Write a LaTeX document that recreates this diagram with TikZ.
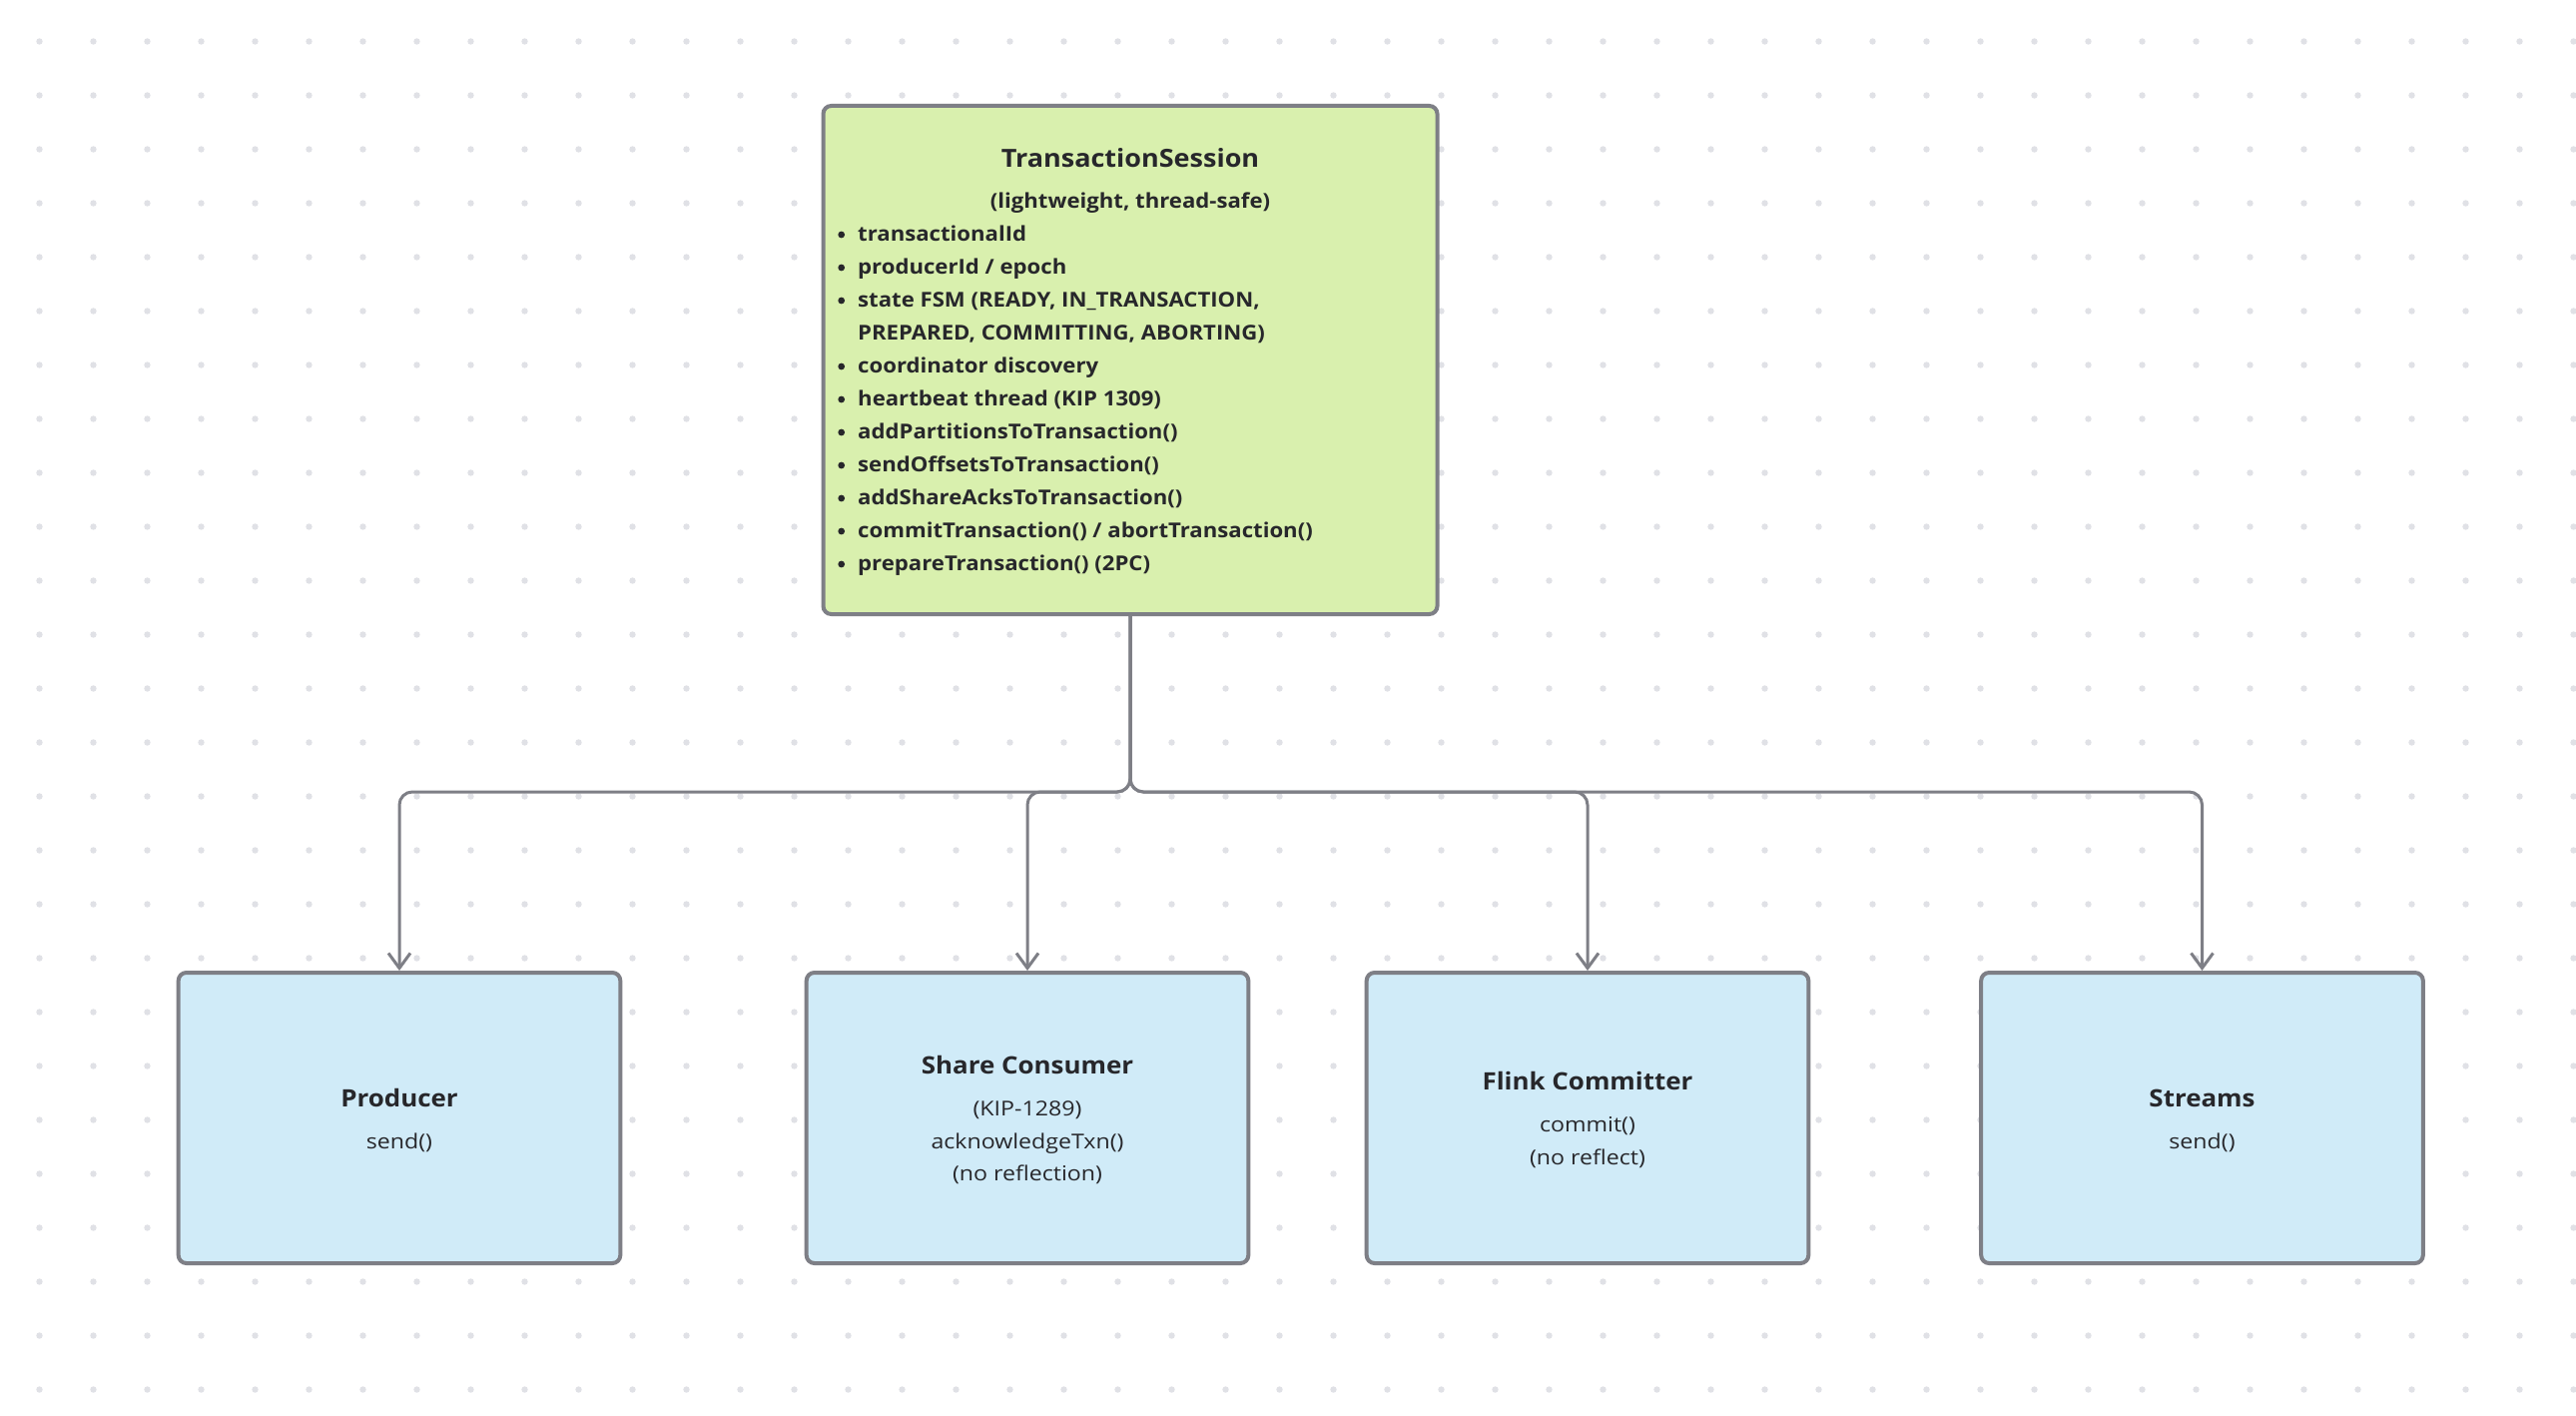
\documentclass[tikz,border=0pt]{standalone}
\usepackage{fontspec}
\setmainfont{Open Sans}
\newfontfamily\boldfam{Open Sans}[FakeStretch=1.08]
\newfontfamily\regfam{Open Sans}[FakeStretch=1.13]
\usetikzlibrary{arrows.meta}
\definecolor{dotc}{HTML}{E0E1E6}
\definecolor{edgec}{HTML}{7E7F86}
\definecolor{tsfill}{HTML}{D9F0AE}
\definecolor{bluefill}{HTML}{D0EBF8}
\definecolor{ink}{HTML}{27272B}
\newcommand\bigtitlefont{\boldfam\fontsize{25}{30}\selectfont\bfseries}
\newcommand\boxtitlefont{\boldfam\fontsize{24}{30}\selectfont\bfseries}
\newcommand\itemfont{\boldfam\fontsize{20.5}{30}\selectfont\bfseries}
\newcommand\plainfont{\regfam\fontsize{20.5}{30}\selectfont}
\tikzset{
  tsbox/.style={draw=edgec, fill=tsfill, line width=4pt, rounded corners=8pt, inner sep=0pt,
    minimum width=615pt, minimum height=509pt},
  childbox/.style={draw=edgec, fill=bluefill, line width=4pt, rounded corners=8pt, inner sep=0pt,
    minimum width=442.6pt, minimum height=291pt},
  conn/.style={draw=edgec, line width=3pt, rounded corners=13pt,
    -{Straight Barb[length=15pt,width=22pt]}},
  txt/.style={text=ink, inner sep=0pt, anchor=base},
  itemtxt/.style={text=ink, inner sep=0pt, anchor=base west, font=\itemfont},
  bulletdot/.style={fill=ink}
}
\begin{document}
\begin{tikzpicture}[x=1pt,y=-1pt]
\useasboundingbox (0,0) rectangle (2580,1418);
\fill[white] (0,0) rectangle (2580,1418);
\foreach \i in {0,...,47}{
  \foreach \j in {0,...,25}{
    \fill[dotc] (39.5+54*\i, 41.5+54*\j) circle[radius=3.2];
  }
}
% main box
\node[tsbox] (ts) at (1132,360.5) {};
\node[txt, font=\bigtitlefont] (tstitle) at (1132,167.7) {TransactionSession};
\node[txt, font=\itemfont] (tssub) at (1132,208) {(lightweight, thread-safe)};
\foreach \y/\t/\b [count=\k] in {
  241/{transactionalId}/1,
  274/{producerId / epoch}/1,
  307/{state FSM (READY, IN\_TRANSACTION,}/1,
  340/{PREPARED, COMMITTING, ABORTING)}/0,
  373/{coordinator discovery}/1,
  406/{heartbeat thread (KIP 1309)}/1,
  439/{addPartitionsToTransaction()}/1,
  472/{sendOffsetsToTransaction()}/1,
  505/{addShareAcksToTransaction()}/1,
  538/{commitTransaction() / abortTransaction()}/1,
  571/{prepareTransaction() (2PC)}/1}{
  \node[itemtxt] (item\k) at (859,\y) {\t};
  \ifnum\b=1 \fill[bulletdot] (842.7,\y-6) circle[radius=3.4]; \fi
}
% child boxes
\node[childbox] (prod) at (400,1119.5) {};
\node[childbox] (share) at (1029,1119.5) {};
\node[childbox] (flink) at (1590,1119.5) {};
\node[childbox] (streams) at (2205.5,1119.5) {};
\node[txt, font=\boxtitlefont] (prodt) at (400,1108.3) {Producer};
\node[txt, font=\plainfont] (prodl) at (400,1150) {send()};
\node[txt, font=\boxtitlefont] (sharet) at (1029,1075) {Share Consumer};
\node[txt, font=\plainfont] (sharel1) at (1029,1117.3) {(KIP-1289)};
\node[txt, font=\plainfont] (sharel2) at (1029,1150) {acknowledgeTxn()};
\node[txt, font=\plainfont] (sharel3) at (1029,1182.7) {(no reflection)};
\node[txt, font=\boxtitlefont] (flinkt) at (1590,1091.7) {Flink Committer};
\node[txt, font=\plainfont] (flinkl1) at (1590,1133.3) {commit()};
\node[txt, font=\plainfont] (flinkl2) at (1590,1166) {(no reflect)};
\node[txt, font=\boxtitlefont] (streamst) at (2205.5,1108.3) {Streams};
\node[txt, font=\plainfont] (streamsl) at (2205.5,1150) {send()};
% connectors
\coordinate (bus) at (1132,793);
\foreach \c in {prod,share,flink,streams}{
  \draw[conn] (ts.south) -- (ts.south |- bus) -| (\c.north);
}
\end{tikzpicture}
\end{document}
